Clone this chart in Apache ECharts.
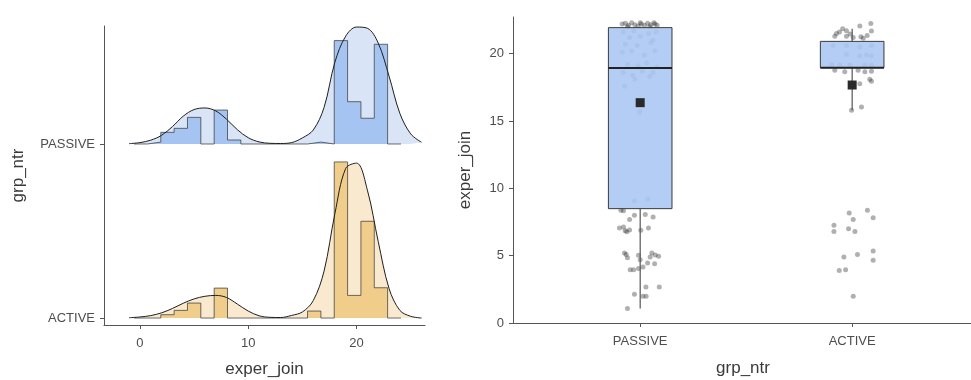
<!DOCTYPE html>
<html><head><meta charset="utf-8">
<script src="https://cdn.jsdelivr.net/npm/echarts@6/dist/echarts.min.js"></script>
<style>html,body{margin:0;padding:0;background:#fff}#c{width:971px;height:380px}</style>
</head><body><div id="c"></div>
<script>
// ---------- data: ridgeline (left) ----------
const ridgeGroups = ['ACTIVE', 'PASSIVE'];          // y positions 1, 2
const xTicksLeft = [0, 10, 20];
const binStart = -0.54;
const binWidth = 1.232;
const passiveHist = [0, 0.011, 0.067, 0.09, 0.153, 0, 0.195, 0.023, 0, 0, 0, 0, 0, 0.011, 0, 0.594, 0.243, 0.148, 0.573, 0];
const activeHist  = [0, 0, 0.019, 0.044, 0.086, 0, 0.172, 0, 0, 0, 0, 0, 0, 0.04, 0, 0.897, 0.13, 0.556, 0.174, 0];
const densX       = [-1, 0, 1, 2, 3, 4, 5, 6, 7, 8, 9, 10, 11, 12, 13, 14, 15, 16, 17, 18, 19, 20, 21, 22, 23, 24, 25, 26];
const passiveDens = [0.002, 0.008, 0.022, 0.05, 0.1, 0.16, 0.198, 0.207, 0.19, 0.142, 0.082, 0.036, 0.012, 0.004, 0.003, 0.008, 0.035, 0.08, 0.21, 0.47, 0.62, 0.672, 0.665, 0.58, 0.39, 0.176, 0.058, 0.01];
const activeDens  = [0.002, 0.006, 0.014, 0.03, 0.055, 0.085, 0.11, 0.125, 0.13, 0.118, 0.08, 0.04, 0.013, 0.004, 0.003, 0.015, 0.035, 0.1, 0.27, 0.6, 0.86, 0.89, 0.735, 0.44, 0.17, 0.044, 0.01, 0];

// ---------- data: box plot (right) ----------
const boxGroups = ['PASSIVE', 'ACTIVE'];            // x positions 1, 2
const yTicksRight = [0, 5, 10, 15, 20];
// [min, Q1, median, Q3, max, mean]
const passiveStats = [1.07, 8.49, 18.93, 21.93, 21.95, 16.36];
const activeStats  = [15.8, 18.96, 18.96, 20.91, 21.85, 17.67];
const passivePtsX = [0.909,0.921,0.950,0.973,1.024,1.061,0.902,0.921,0.929,0.950,0.937,1.003,1.039,0.926,0.934,0.940,0.992,1.0,1.055,1.071,1.087,1.047,1.035,1.013,0.992,0.953,0.969,1.068,1.027,1.09,0.973,1.013,1.028,0.940,
  0.973,1.036,0.998,0.926,
  0.915,0.93,0.945,0.96,0.975,0.99,1.005,1.02,1.035,1.05,1.065,1.08,0.94,1.0,1.045,1.07,
  0.92,0.97,1.04,1.075,0.95,1.0,1.06,0.93,0.985,1.05,0.915,0.96,1.02,1.07,0.94,0.99,1.03,1.08,0.92,0.965,1.01,1.045,1.06,0.975];
const passivePtsY = [8.37,8.33,7.68,8.0,8.05,7.87,7.05,7.12,6.85,6.9,6.78,6.88,7.05,5.2,5.08,4.85,5.03,4.7,5.2,5.05,4.95,4.9,4.45,4.15,4.05,3.96,3.96,4.4,2.67,2.67,2.13,1.98,1.98,1.07,
  9.06,9.18,15.67,17.57,
  22.2,22.25,22.1,22.3,22.15,22.05,22.2,22.1,22.25,22.15,22.3,22.1,22.0,22.3,22.0,22.2,
  21.6,21.7,21.5,21.6,21.2,21.3,21.0,20.7,20.6,20.8,20.1,20.2,19.9,20.2,19.2,19.1,19.3,19.0,18.6,18.4,18.7,18.3,18.6,18.1];
const activePtsX = [2.036,2.088,2.091,1.955,1.973,1.926,1.918,1.973,2.005,2.041,2.071,2.052,1.94,1.99,
  1.91,1.973,2.036,2.091,1.973,2.036,2.068,2.091,1.903,1.942,1.989,2.06,2.091,
  1.918,1.965,2.028,2.06,2.091,2.083,2.091,2.036,1.997,2.044,
  2.072,1.986,2.099,2.005,1.914,1.914,1.983,2.013,2.099,2.099,2.025,1.961,1.939,1.969,2.005];
const activePtsY = [22.05,22.23,21.68,21.85,21.7,21.5,21.3,21.3,21.2,21.25,21.35,21.15,21.6,21.45,
  20.6,20.6,20.5,20.6,19.95,19.85,19.9,19.85,19.2,19.15,19.15,19.15,19.15,
  18.76,18.65,18.76,18.65,18.7,18.1,17.95,17.77,15.79,16.04,
  8.37,8.17,7.82,7.68,7.25,6.8,7.0,6.8,5.35,4.65,5.08,4.9,3.9,3.95,1.98];

// ---------- styling ----------
const FONT = '"Liberation Sans", Arial, sans-serif';
const AXIS = '#555';
const LBL = '#4d4d4d';
const TTL = '#3a3a3a';
const colPassiveHist = '#a6c4f1', colPassiveDens = '#d9e5f7';
const colActiveHist = '#f0cd8b', colActiveDens = '#f9e9cf';

function histData(h, base) {
  const d = h.map((v, i) => [binStart + i * binWidth, base + v]);
  d.push([binStart + h.length * binWidth, base]);
  return d;
}
function densData(dv, base) { return densX.map((x, i) => [x, base + dv[i]]); }

const passivePts = passivePtsX.map((x, i) => [x, passivePtsY[i]]);
const activePts = activePtsX.map((x, i) => [x, activePtsY[i]]);

const axisCommon = {
  axisLine: { show: true, onZero: false, lineStyle: { color: AXIS, width: 1 } },
  splitLine: { show: false },
  nameTextStyle: { color: TTL, fontSize: 17, fontFamily: FONT },
};
const lbl = { color: LBL, fontSize: 13, fontFamily: FONT };
const tick = vals => ({ show: true, length: 4, lineStyle: { color: AXIS }, customValues: vals });

const chart = echarts.init(document.getElementById('c'), null, { renderer: 'canvas' });
chart.setOption({
  animation: false,
  backgroundColor: '#fff',
  grid: [
    { left: 104, top: 26, width: 321, height: 299, containLabel: false, outerBoundsMode: 'none' },
    { left: 513, top: 17, width: 460, height: 306, containLabel: false, outerBoundsMode: 'none' }
  ],
  xAxis: [
    Object.assign({}, axisCommon, {
      type: 'value', gridIndex: 0, min: -3.32, max: 26.32,
      name: 'exper_join', nameLocation: 'middle', nameGap: 36,
      axisTick: tick(xTicksLeft),
      axisLabel: Object.assign({ margin: 12, customValues: xTicksLeft }, lbl)
    }),
    Object.assign({}, axisCommon, {
      type: 'value', gridIndex: 1, min: 0.4, max: 2.57,
      name: 'grp_ntr', nameLocation: 'middle', nameGap: 37,
      axisTick: tick([1, 2]),
      axisLabel: Object.assign({ margin: 12, customValues: [1, 2], formatter: v => boxGroups[Math.round(v) - 1] || '' }, lbl)
    })
  ],
  yAxis: [
    Object.assign({}, axisCommon, {
      type: 'value', gridIndex: 0, min: 0.96, max: 2.678,
      name: 'grp_ntr', nameLocation: 'middle', nameGap: 77,
      axisTick: tick([1, 2]),
      axisLabel: Object.assign({ margin: 9, customValues: [1, 2], formatter: v => ridgeGroups[Math.round(v) - 1] || '' }, lbl)
    }),
    Object.assign({}, axisCommon, {
      type: 'value', gridIndex: 1, min: 0, max: 22.72,
      name: 'exper_join', nameLocation: 'middle', nameGap: 39,
      axisTick: tick(yTicksRight),
      axisLabel: Object.assign({ margin: 9, customValues: yTicksRight }, lbl)
    })
  ],
  series: [
    // PASSIVE ridge
    { type: 'line', xAxisIndex: 0, yAxisIndex: 0, data: densData(passiveDens, 2), smooth: 0.35, showSymbol: false,
      lineStyle: { width: 0 }, areaStyle: { color: colPassiveDens, opacity: 1, origin: 2 }, z: 1 },
    { type: 'line', xAxisIndex: 0, yAxisIndex: 0, data: histData(passiveHist, 2), step: 'end', showSymbol: false,
      lineStyle: { color: 'rgba(60,60,60,0.75)', width: 1 }, areaStyle: { color: colPassiveHist, opacity: 1, origin: 2 }, z: 2 },
    { type: 'line', xAxisIndex: 0, yAxisIndex: 0, data: densData(passiveDens, 2), smooth: 0.35, showSymbol: false,
      lineStyle: { color: '#1e1e1e', width: 1 }, z: 3 },
    // ACTIVE ridge
    { type: 'line', xAxisIndex: 0, yAxisIndex: 0, data: densData(activeDens, 1), smooth: 0.35, showSymbol: false,
      lineStyle: { width: 0 }, areaStyle: { color: colActiveDens, opacity: 1, origin: 1 }, z: 1 },
    { type: 'line', xAxisIndex: 0, yAxisIndex: 0, data: histData(activeHist, 1), step: 'end', showSymbol: false,
      lineStyle: { color: 'rgba(60,60,60,0.75)', width: 1 }, areaStyle: { color: colActiveHist, opacity: 1, origin: 1 }, z: 2 },
    { type: 'line', xAxisIndex: 0, yAxisIndex: 0, data: densData(activeDens, 1), smooth: 0.35, showSymbol: false,
      lineStyle: { color: '#1e1e1e', width: 1 }, z: 3 },
    // jittered points
    { type: 'scatter', xAxisIndex: 1, yAxisIndex: 1, data: passivePts.concat(activePts), symbolSize: 5,
      itemStyle: { color: 'rgba(35,35,35,0.45)' }, z: 1 },
    // boxes
    { type: 'custom', xAxisIndex: 1, yAxisIndex: 1,
      data: [[1].concat(passiveStats), [2].concat(activeStats)],
      renderItem: function (params, api) {
        const x = api.value(0);
        const lo = api.coord([x, api.value(1)]);
        const q1 = api.coord([x, api.value(2)]);
        const md = api.coord([x, api.value(3)]);
        const q3 = api.coord([x, api.value(4)]);
        const hi = api.coord([x, api.value(5)]);
        const mn = api.coord([x, api.value(6)]);
        const w = api.size([0.3, 0])[0];
        return { type: 'group', children: [
          { type: 'line', shape: { x1: lo[0], y1: lo[1], x2: q1[0], y2: q1[1] }, style: { stroke: '#555', lineWidth: 1.2 } },
          { type: 'line', shape: { x1: q3[0], y1: q3[1], x2: hi[0], y2: hi[1] }, style: { stroke: '#555', lineWidth: 1.2 } },
          { type: 'rect', shape: { x: q1[0] - w / 2, y: q3[1], width: w, height: q1[1] - q3[1] },
            style: { fill: 'rgba(168,198,242,0.88)', stroke: '#3a3a3a', lineWidth: 1 } },
          { type: 'line', shape: { x1: q1[0] - w / 2, y1: md[1], x2: q1[0] + w / 2, y2: md[1] }, style: { stroke: '#222', lineWidth: 2 } },
          { type: 'rect', shape: { x: mn[0] - 4.5, y: mn[1] - 4.5, width: 9, height: 9 }, style: { fill: '#2a2a2a' } }
        ] };
      }, z: 2 }
  ]
});
</script></body></html>
